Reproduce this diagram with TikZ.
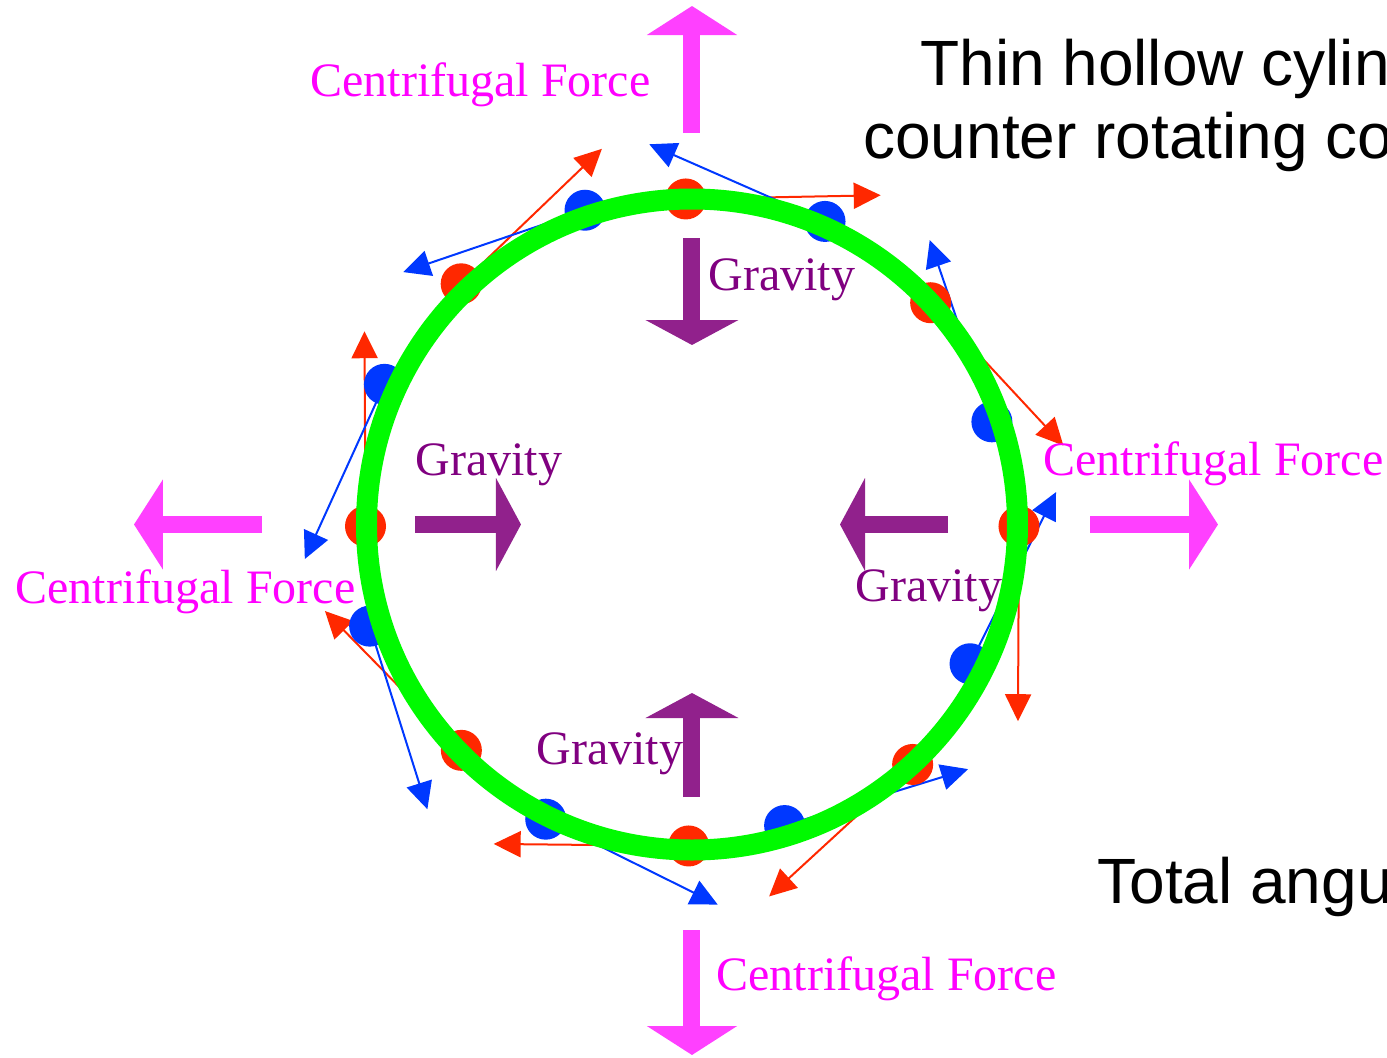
\documentclass[tikz,border=0pt]{standalone}
\usepackage{fontspec}
\setmainfont{Liberation Serif}
\setsansfont{Liberation Sans}
\usetikzlibrary{arrows.meta,calc,positioning}

\definecolor{ringgreen}{RGB}{0,250,0}
\definecolor{massred}{RGB}{255,40,0}
\definecolor{massblue}{RGB}{0,56,255}
\definecolor{cfmagenta}{RGB}{255,64,255}
\definecolor{cftext}{RGB}{255,0,255}
\definecolor{gravpurple}{RGB}{145,33,140}
\definecolor{gravtext}{RGB}{128,0,128}

\tikzset{
  mass/.style={circle, fill=#1, minimum size=20.5pt, inner sep=0pt},
  velocity/.style={draw=#1, line width=1pt, -{Triangle[length=13.5pt,width=13pt,fill=#1]}},
  centrifugal/.style={draw=cfmagenta, line width=8.5pt, -{Triangle[length=14.5pt,width=44.5pt,fill=cfmagenta]}},
  gravity/.style={draw=gravpurple, line width=8.5pt, -{Triangle[length=12.5pt,width=46pt,fill=gravpurple]}},
  cflabel/.style={text=cftext, font=\fontsize{24}{28}\selectfont, anchor=base west, inner sep=0pt},
  gravlabel/.style={text=gravtext, font=\fontsize{24}{28}\selectfont, anchor=base west, inner sep=0pt},
  titlelabel/.style={font=\sffamily\fontsize{32}{36}\selectfont, anchor=base west, inner sep=0pt}
}

\begin{document}
\begin{tikzpicture}[x=0.5pt,y=0.5pt]
    \useasboundingbox (-692,-532.5) rectangle (695,524.5);
    \clip (-692,-532.5) rectangle (695,524.5);

    % velocities first, masses over them, the cylinder on top
    \foreach \a/\r [count=\i] in {91.1/325.6,42.9/325.8,-0.3/327,-47.4/326,-90.6/321.5,-135.6/322.8,180.3/326.5,133.8/333.5}{
        \coordinate (rc\i) at (\a:\r);
        \draw[velocity=massred] (rc\i) -- ($(rc\i)+(\a-90:195)$);
    }
    \foreach \a/\r [count=\i] in {108.8/332,66.3/331,18.9/317,-26.6/311,-72.9/315,-116.4/329,-162.5/338,155.5/338}{
        \coordinate (bc\i) at (\a:\r);
        \draw[velocity=massblue] (bc\i) -- ($(bc\i)+(\a+90:192)$);
    }
    \foreach \i in {1,...,8}{
        \node[mass=massred] (r\i) at (rc\i) {};
        \node[mass=massblue] (b\i) at (bc\i) {};
    }
    \draw[ringgreen, line width=10.5pt] (0,0) circle (325.5);

    % forces
    \draw[centrifugal] (0,392) -- (0,518.5);
    \draw[centrifugal] (-430,0) -- (-558,0);
    \draw[centrifugal] (398,0) -- (526,0);
    \draw[centrifugal] (0,-405.5) -- (0,-530.5);
    \draw[gravity] (0,286.5) -- (0,179.5);
    \draw[gravity] (-277,0) -- (-171,0);
    \draw[gravity] (256,0) -- (148,0);
    \draw[gravity] (0,-272.5) -- (0,-168.5);

    \node[cflabel] (cfN) at (-382,428.5) {Centrifugal Force};
    \node[cflabel] (cfE) at (351,49.5) {Centrifugal Force};
    \node[cflabel] (cfW) at (-677,-78.5) {Centrifugal Force};
    \node[cflabel] (cfS) at (24,-465.5) {Centrifugal Force};
    \node[gravlabel] (grN) at (16,234.5) {Gravity};
    \node[gravlabel] (grW) at (-277,49.5) {Gravity};
    \node[gravlabel] (grE) at (163,-77) {Gravity};
    \node[gravlabel] (grS) at (-156,-239.5) {Gravity};

    \node[titlelabel] (title1) at (228,439.5) {Thin hollow cylin};
    \node[titlelabel] (title2) at (171,366.5) {counter rotating co};
    \node[titlelabel] (total) at (405,-378.5) {Total angu};
\end{tikzpicture}
\end{document}
